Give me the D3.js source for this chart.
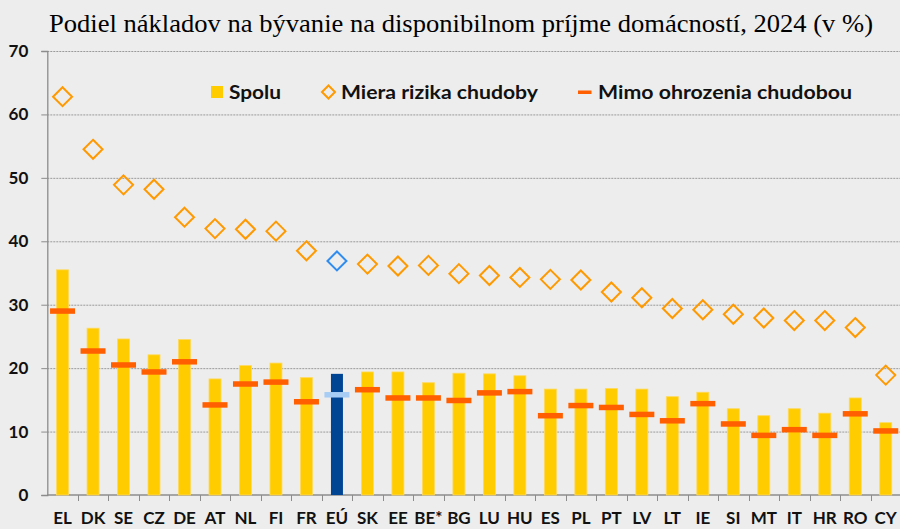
<!DOCTYPE html>
<html lang="sk">
<head>
<meta charset="UTF-8">
<title>Podiel nákladov na bývanie</title>
<style>
  body { margin: 0; background: #ededed; }
  svg { display: block; }
</style>
</head>
<body>
<svg id="chart" width="900" height="529"></svg>
<script src="https://d3js.org/d3.v7.min.js"></script>
<script>
// krajiny (EÚ je zvýraznená)
var countries = ["EL","DK","SE","CZ","DE","AT","NL","FI","FR","EÚ","SK","EE","BE*","BG","LU","HU","ES","PL","PT","LV","LT","IE","SI","MT","IT","HR","RO","CY"];

// Spolu (stĺpce)
var spolu = [35.5,26.3,24.6,22.1,24.5,18.3,20.4,20.8,18.5,19.1,19.4,19.4,17.7,19.2,19.1,18.8,16.7,16.7,16.8,16.7,15.5,16.2,13.6,12.5,13.6,12.9,15.3,11.4];

// Miera rizika chudoby (kosoštvorce)
var rizikoChudoby = [62.8,54.5,48.9,48.2,43.8,42.0,41.9,41.6,38.5,36.9,36.4,36.1,36.2,34.9,34.6,34.3,34.0,33.9,32.0,31.1,29.4,29.2,28.5,27.9,27.5,27.5,26.4,18.9];

// Mimo ohrozenia chudobou (čiarky)
var mimoOhrozenia = [29.0,22.7,20.5,19.4,21.0,14.2,17.5,17.8,14.7,15.8,16.6,15.3,15.3,14.9,16.1,16.3,12.5,14.1,13.8,12.7,11.7,14.4,11.2,9.4,10.3,9.4,12.8,10.1];

var yTicks = [0,10,20,30,40,50,60,70];
var legendLabels = ["Spolu", "Miera rizika chudoby", "Mimo ohrozenia chudobou"];

var data = countries.map(function(c, i) {
  return { c: c, spolu: spolu[i], riziko: rizikoChudoby[i], mimo: mimoOhrozenia[i], eu: c === "EÚ" };
});

var svg = d3.select("#chart");
var plotLeft = 47.3, plotRight = 901, plotTop = 51, plotBottom = 495;

var x = d3.scaleBand().domain(countries).range([plotLeft, plotRight]).padding(0);
var y = d3.scaleLinear().domain([0, 70]).range([plotBottom, plotTop]);

var font = "Lato, 'Open Sans', sans-serif";

// pozadie
svg.append("rect").attr("width", 900).attr("height", 529).attr("fill", "#ededed");

// nadpis
svg.append("text")
  .attr("x", 49).attr("y", 32)
  .attr("textLength", 824).attr("lengthAdjust", "spacingAndGlyphs")
  .style("font-family", "'Liberation Serif', 'Times New Roman', serif")
  .style("font-size", "26px")
  .attr("fill", "#000")
  .text("Podiel nákladov na bývanie na disponibilnom príjme domácností, 2024 (v %)");

// mriežka
svg.append("g").selectAll("line")
  .data(yTicks.filter(function(d) { return d > 0; }))
  .enter().append("line")
  .attr("x1", plotLeft).attr("x2", 900)
  .attr("y1", function(d) { return y(d) + 0.5; })
  .attr("y2", function(d) { return y(d) + 0.5; })
  .attr("stroke", "#9a9a9a")
  .attr("stroke-dasharray", "2,1")
  .attr("stroke-width", 1);

// os y
var yAxis = d3.axisLeft(y).tickValues(yTicks).tickSize(6).tickPadding(13);
var gy = svg.append("g").attr("transform", "translate(" + plotLeft + ",0)").call(yAxis);
gy.select(".domain").attr("stroke", "#8c8c8c").attr("stroke-width", 1.3);
gy.selectAll(".tick line").attr("stroke", "#8c8c8c");
gy.selectAll(".tick text")
  .style("font-family", font).style("font-size", "17px").style("font-weight", "bold")
  .attr("fill", "#111");

// os x (čiarky medzi kategóriami)
svg.append("line")
  .attr("x1", plotLeft).attr("x2", 900)
  .attr("y1", plotBottom).attr("y2", plotBottom)
  .attr("stroke", "#8c8c8c").attr("stroke-width", 1.3);
svg.append("g").selectAll("line")
  .data(countries.slice(1))
  .enter().append("line")
  .attr("x1", function(d) { return Math.round(x(d)) + 0.5; })
  .attr("x2", function(d) { return Math.round(x(d)) + 0.5; })
  .attr("y1", plotBottom).attr("y2", plotBottom + 6)
  .attr("stroke", "#8c8c8c");
svg.append("g").selectAll("text")
  .data(countries)
  .enter().append("text")
  .attr("x", function(d) { return x(d) + x.bandwidth() / 2; })
  .attr("y", 524)
  .attr("text-anchor", "middle")
  .style("font-family", font).style("font-size", "17px").style("font-weight", "bold")
  .attr("fill", "#111")
  .text(function(d) { return d; });

// stĺpce
var barW = 12;
svg.append("g").selectAll("rect")
  .data(data)
  .enter().append("rect")
  .attr("x", function(d) { return x(d.c) + x.bandwidth() / 2 - barW / 2; })
  .attr("y", function(d) { return y(d.spolu); })
  .attr("width", barW)
  .attr("height", function(d) { return y(0) - y(d.spolu); })
  .attr("fill", function(d) { return d.eu ? "#004494" : "#ffcc00"; })
  .attr("stroke", function(d) { return d.eu ? "none" : "#ffd95a"; })
  .attr("stroke-width", 0.8);

// čiarky - mimo ohrozenia
var dashW = 25, dashH = 5.5;
svg.append("g").selectAll("rect")
  .data(data)
  .enter().append("rect")
  .attr("x", function(d) { return x(d.c) + x.bandwidth() / 2 - dashW / 2; })
  .attr("y", function(d) { return y(d.mimo) - dashH / 2; })
  .attr("width", dashW).attr("height", dashH)
  .attr("fill", function(d) { return d.eu ? "#a7cdf4" : "#ff5f00"; });

// kosoštvorce - miera rizika
var r = 9.5;
svg.append("g").selectAll("path")
  .data(data)
  .enter().append("path")
  .attr("transform", function(d) {
    return "translate(" + (x(d.c) + x.bandwidth() / 2) + "," + y(d.riziko) + ")";
  })
  .attr("d", "M0," + (-r) + "L" + r + ",0L0," + r + "L" + (-r) + ",0Z")
  .attr("fill", "none")
  .attr("stroke", function(d) { return d.eu ? "#2f8cf0" : "#ff9900"; })
  .attr("stroke-width", 2);

// legenda
var lg = svg.append("g");
lg.append("rect").attr("x", 211).attr("y", 86).attr("width", 12).attr("height", 12).attr("fill", "#ffcc00");
lg.append("path")
  .attr("transform", "translate(328.5,92)")
  .attr("d", "M0,-6.5L6.5,0L0,6.5L-6.5,0Z")
  .attr("fill", "none").attr("stroke", "#ff9900").attr("stroke-width", 2);
lg.append("rect").attr("x", 578).attr("y", 90.5).attr("width", 13.5).attr("height", 3.5).attr("fill", "#ff5f00");

var legendX = [229, 341, 598];
var legendW = [52, 197, 254];
lg.selectAll("text")
  .data(legendLabels)
  .enter().append("text")
  .attr("x", function(d, i) { return legendX[i]; })
  .attr("y", 99)
  .attr("textLength", function(d, i) { return legendW[i]; })
  .attr("lengthAdjust", "spacingAndGlyphs")
  .style("font-family", font).style("font-size", "19px").style("font-weight", "bold")
  .attr("fill", "#111")
  .text(function(d) { return d; });
</script>
</body>
</html>
